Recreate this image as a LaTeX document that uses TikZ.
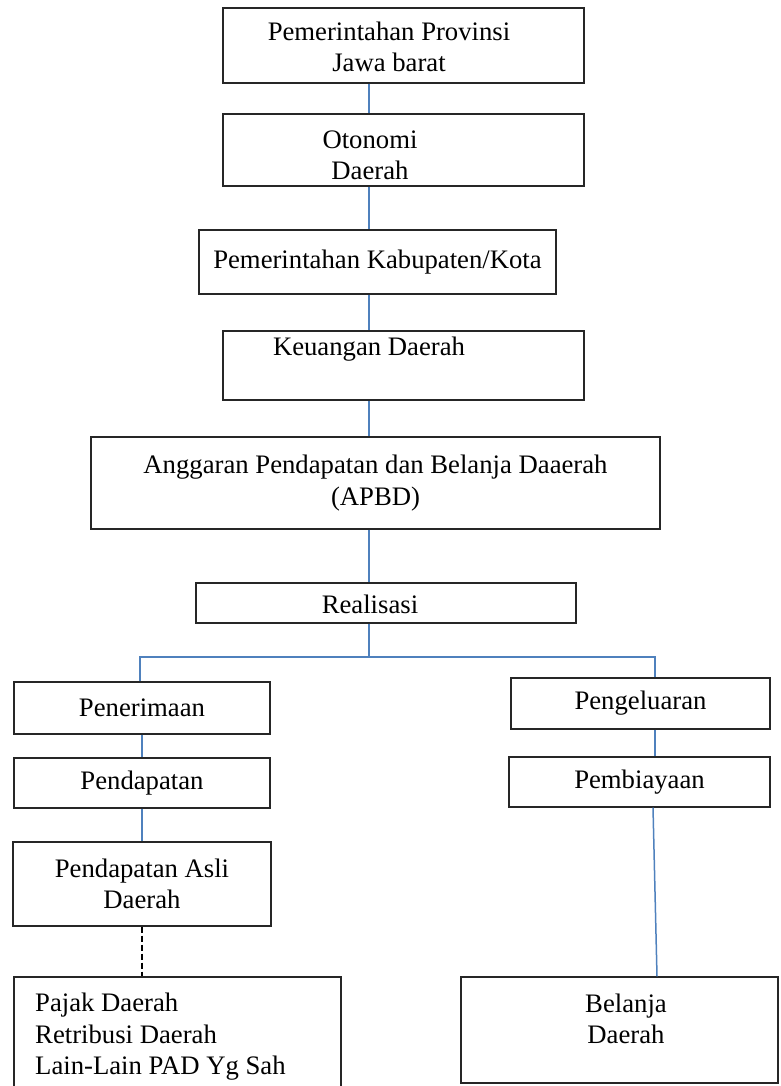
\documentclass[tikz,border=0pt]{standalone}
\usepackage{fontspec}
\setmainfont{Liberation Serif}
\begin{document}
\begin{tikzpicture}[x=1pt,y=-1pt,
 box/.style={draw=black!85,line width=1.2pt,align=center,inner sep=0pt,font=\fontsize{26.7}{31.5}\selectfont},
 txt/.style={align=center,inner sep=0pt,font=\fontsize{26.7}{31.5}\selectfont},
 link/.style={draw=linkcolor,line width=1.5pt}]
 \definecolor{linkcolor}{HTML}{4F81BD}
 \useasboundingbox (0,0) rectangle (781,1086);
 \coordinate (spine) at (369,0);
 \node[box,minimum width=361pt,minimum height=75pt] (prov) at (403.5,45.5) {};
 \node[txt] (prov-t) at (389,47) {Pemerintahan Provinsi\\Jawa barat};
 \node[box,minimum width=361pt,minimum height=72pt] (oto) at (403.5,150) {};
 \node[txt] (oto-t) at (370,155.5) {Otonomi\\Daerah};
 \node[box,minimum width=357pt,minimum height=64pt] (kab) at (377.5,262) {Pemerintahan Kabupaten/Kota};
 \node[box,minimum width=361pt,minimum height=69pt] (keu) at (403.5,365.5) {};
 \node[txt] (keu-t) at (369,349) {Keuangan Daerah};
 \node[box,minimum width=569pt,minimum height=92pt] (apbd) at (375.5,483) {Anggaran Pendapatan dan Belanja Daaerah\\(APBD)};
 \node[box,minimum width=380pt,minimum height=40pt] (real) at (386,603) {};
 \node[txt] (real-t) at (370,604) {Realisasi};
 \node[box,minimum width=256pt,minimum height=52pt] (pen) at (142,708) {Penerimaan};
 \node[box,minimum width=256pt,minimum height=50pt] (pdp) at (142,783) {Pendapatan};
 \node[box,minimum width=258pt,minimum height=84pt] (pad) at (142,884) {Pendapatan Asli\\Daerah};
 \node[box,minimum width=327pt,minimum height=115pt] (pajak) at (177.5,1034.5) {};
 \node[txt,align=left,anchor=west] (pajak-t) at (35,1037) {Pajak Daerah\\Retribusi Daerah\\Lain-Lain PAD Yg Sah};
 \node[box,minimum width=259pt,minimum height=51pt] (pengel) at (640.5,703.5) {Pengeluaran};
 \node[box,minimum width=261pt,minimum height=50pt] (pemb) at (639.5,782) {Pembiayaan};
 \node[box,minimum width=317pt,minimum height=106pt] (belanja) at (619.5,1030) {};
 \node[txt] (belanja-t) at (626,1019) {Belanja\\Daerah};
 \coordinate (fork) at (369,657);
 \coordinate (lft) at (140,657);
 \coordinate (rgt) at (655,657);
 \draw[link] (prov.south -| spine) -- (oto.north -| spine);
 \draw[link] (oto.south -| spine) -- (kab.north -| spine);
 \draw[link] (kab.south -| spine) -- (keu.north -| spine);
 \draw[link] (keu.south -| spine) -- (apbd.north -| spine);
 \draw[link] (apbd.south -| spine) -- (real.north -| spine);
 \draw[link] (real.south -| spine) -- (fork);
 \draw[link] (pen.north -| lft) -- (lft) -- (rgt) -- (pengel.north -| rgt);
 \draw[link] (pen.south) -- (pdp.north);
 \draw[link] (pdp.south) -- (pad.north);
 \draw[line width=1.2pt,dash pattern=on 6pt off 3pt] (pad.south) -- (pajak.north -| pad.south);
 \draw[link] (pengel.south -| rgt) -- (pemb.north -| rgt);
 \draw[link] ([xshift=-2pt]pemb.south -| rgt) -- ([xshift=2pt]belanja.north -| rgt);
\end{tikzpicture}
\end{document}
